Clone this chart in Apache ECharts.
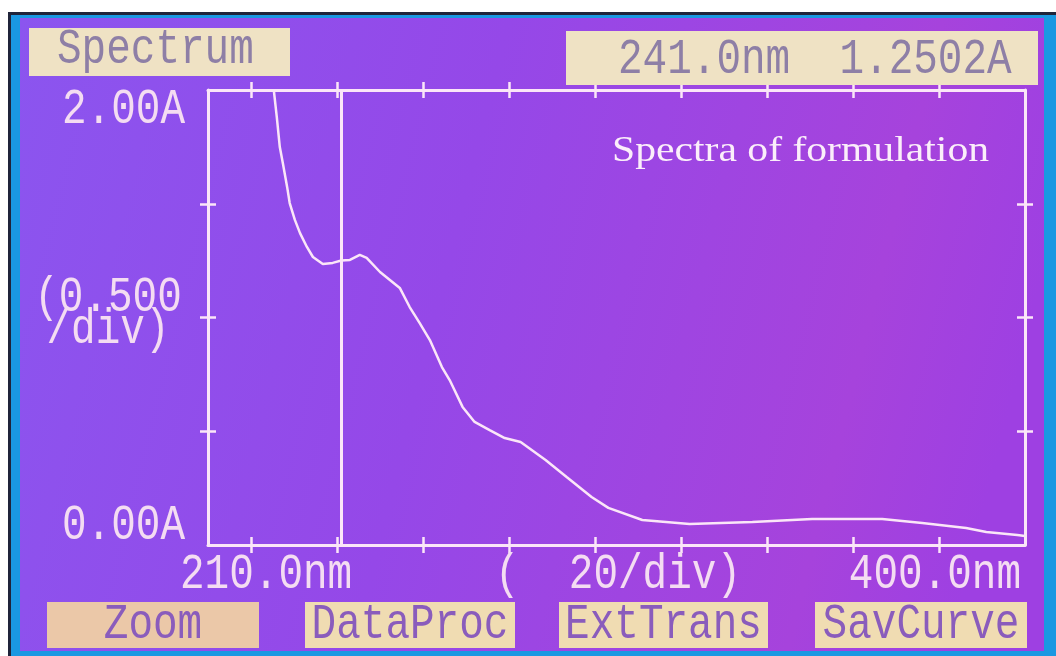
<!DOCTYPE html>
<html>
	<head>
		<meta charset="utf-8" />
		<title>Spectrum</title>
		<style>
			html, body { margin: 0; padding: 0; background: #fff; }
			#chart { width: 1056px; height: 656px; }
		</style>
	</head>
	<body>
		<div id="chart"></div>

		<script src="https://cdn.jsdelivr.net/npm/echarts@6/dist/echarts.min.js"></script>
		<script type="text/javascript">
			// spectrum (nm / A)
			const wavelength = [225.3, 226.0, 226.7, 227.4, 228.4, 229.0, 230.2, 231.4, 233.0, 234.4, 236.7, 239.0, 241.0, 243.0, 245.3, 246.9, 250.0, 252.3, 254.6, 256.9, 259.2, 261.6, 264.4, 266.2, 269.2, 272.0, 275.5, 279.0, 282.7, 288.5, 293.4, 299.2, 303.1, 311.0, 322.0, 336.6, 350.5, 366.8, 376.1, 386.3, 391.0, 398.2, 400.0];
			const absorbance = [2.0, 1.881, 1.749, 1.679, 1.574, 1.503, 1.429, 1.371, 1.31, 1.266, 1.235, 1.24, 1.2502, 1.253, 1.275, 1.262, 1.2, 1.165, 1.13, 1.046, 0.976, 0.901, 0.782, 0.725, 0.607, 0.541, 0.505, 0.47, 0.453, 0.374, 0.299, 0.211, 0.163, 0.11, 0.092, 0.101, 0.114, 0.114, 0.097, 0.075, 0.057, 0.044, 0.04];

			const xTicks = [220, 240, 260, 280, 300, 320, 340, 360, 380];
			const yTicks = [0.5, 1.0, 1.5];
			const cursorNm = 241.0;
			const cursorText = '241.0nm  1.2502A';
			const yLabels = ['2.00A', '(0.500', '/div)', '0.00A'];
			const xLabels = ['210.0nm', '(  20/div)', '400.0nm'];
			const buttons = ['Zoom', 'DataProc', 'ExtTrans', 'SavCurve'];

			const ink = '#fbe6f8';
			const mono = '"Liberation Mono", "DejaVu Sans Mono", monospace';
			const plotRect = { left: 208, right: 31, top: 90, bottom: 111 };

			// one grid per tick direction, all over the same rectangle:
			// 0 = bottom/left outside, 1 = bottom/left inside, 2 = top/right outside, 3 = top/right inside
			const frameAxis = (idx, isX) => {
				const inside = idx % 2 === 1;
				const far = idx >= 2;
				return {
					type: 'value',
					gridIndex: idx,
					position: isX ? (far ? 'top' : 'bottom') : far ? 'right' : 'left',
					min: isX ? 210 : 0,
					max: isX ? 400 : 2,
					interval: isX ? undefined : 0.5,
					axisLine: { show: !inside, onZero: false, lineStyle: { color: ink, width: 3 } },
					axisTick: {
						show: true,
						inside: inside,
						length: 8,
						customValues: isX ? xTicks : yTicks,
						lineStyle: { color: ink, width: 2.5 },
					},
					axisLabel: { show: false },
					splitLine: { show: false },
				};
			};

			const txt = (text, x, y, align, opts = {}) => ({
				type: 'text',
				x: x,
				y: y,
				z: 100,
				scaleY: opts.scaleY || 1.22,
				scaleX: opts.scaleX || 1,
				style: {
					text: text,
					x: 0,
					y: 0,
					fill: opts.fill || '#f4dcf2',
					font: opts.font || '41px ' + mono,
					align: align,
					verticalAlign: 'middle',
				},
			});

			const btnBoxes = [
				[47, 259, '#ebc8a8'],
				[305, 515, '#f0dcb2'],
				[559, 768, '#f0dcb2'],
				[815, 1027, '#f0dcb2'],
			];

			const graphics = [
				{ type: 'rect', z: -100, shape: { x: 0, y: 0, width: 1056, height: 656 }, style: { fill: '#ffffff' } },
				{ type: 'rect', z: -99, shape: { x: 8, y: 12, width: 1048, height: 644 }, style: { fill: '#1a98e2' } },
				{ type: 'rect', z: -99, shape: { x: 8, y: 12, width: 1048, height: 3 }, style: { fill: '#20243a' } },
				{ type: 'rect', z: -99, shape: { x: 8, y: 12, width: 3, height: 644 }, style: { fill: '#20243a' } },
				{
					type: 'rect',
					z: -98,
					shape: { x: 20, y: 18, width: 1024, height: 633 },
					style: {
						fill: new echarts.graphic.LinearGradient(0, 0, 1, 0.4, [
							{ offset: 0, color: '#8b55ef' },
							{ offset: 0.45, color: '#9548e8' },
							{ offset: 0.85, color: '#a643dc' },
							{ offset: 1, color: '#9e40e2' },
						]),
					},
				},
				// header boxes
				{ type: 'rect', z: 50, shape: { x: 29, y: 28, width: 261, height: 48 }, style: { fill: '#efe2c4' } },
				{ type: 'rect', z: 50, shape: { x: 566, y: 31, width: 472, height: 54 }, style: { fill: '#efe2c4' } },
				txt('Spectrum', 57, 50, 'left', { fill: '#8e7fa6' }),
				txt(cursorText, 618, 60, 'left', { fill: '#8e7fa6' }),
				// y labels
				txt(yLabels[0], 185, 110, 'right'),
				txt(yLabels[1], 108, 298, 'center'),
				txt(yLabels[2], 108, 330, 'center'),
				txt(yLabels[3], 185, 526, 'right'),
				// x labels
				txt(xLabels[0], 180, 575, 'left'),
				txt(xLabels[1], 495, 575, 'left'),
				txt(xLabels[2], 1021, 575, 'right'),
				// title
				txt('Spectra of formulation', 612, 152, 'left', {
					fill: '#fbeefa',
					font: '35px "Liberation Serif", "DejaVu Serif", serif',
					scaleX: 1.19,
					scaleY: 1,
				}),
			];
			buttons.forEach((b, i) => {
				const [x0, x1, col] = btnBoxes[i];
				graphics.push({ type: 'rect', z: 50, shape: { x: x0, y: 602, width: x1 - x0, height: 46 }, style: { fill: col } });
				graphics.push(txt(b, (x0 + x1) / 2, 625, 'center', { fill: '#8a5cbc' }));
			});

			const grids = [0, 1, 2, 3].map(() => ({ ...plotRect }));

			const option = {
				animation: false,
				grid: grids,
				xAxis: [0, 1, 2, 3].map((i) => frameAxis(i, true)),
				yAxis: [0, 1, 2, 3].map((i) => frameAxis(i, false)),
				graphic: graphics,
				series: [
					{
						type: 'line',
						xAxisIndex: 0,
						yAxisIndex: 0,
						data: wavelength.map((w, i) => [w, absorbance[i]]),
						showSymbol: false,
						clip: true,
						lineStyle: { color: ink, width: 2.5 },
						markLine: {
							silent: true,
							symbol: 'none',
							label: { show: false },
							lineStyle: { color: ink, width: 3, type: 'solid' },
							data: [{ xAxis: cursorNm }],
						},
					},
				],
			};

			const chart = echarts.init(document.getElementById('chart'));
			chart.setOption(option);
		</script>
	</body>
</html>
